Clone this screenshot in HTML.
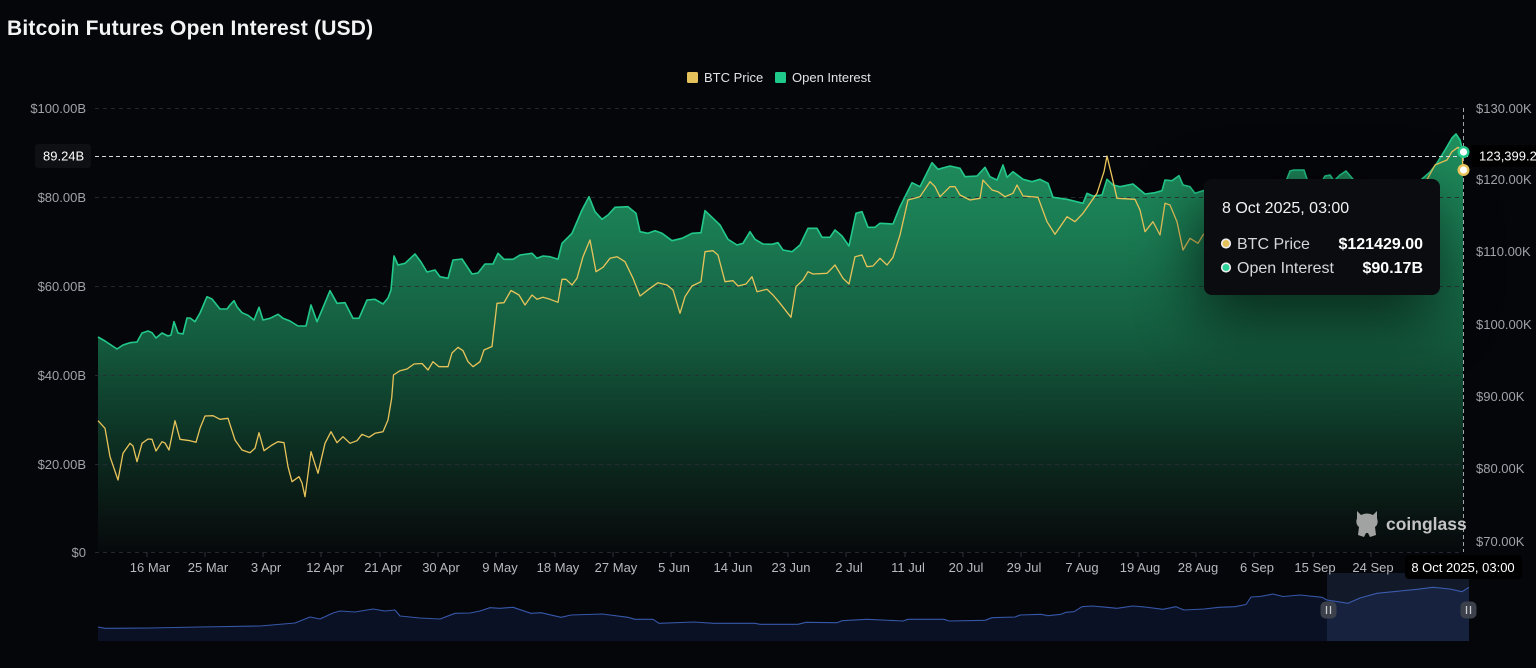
<!DOCTYPE html>
<html>
<head>
<meta charset="utf-8">
<style>
html,body{margin:0;padding:0;background:#05060a;}
body{width:1536px;height:668px;overflow:hidden;}
svg{display:block;font-family:"Liberation Sans",sans-serif;}
</style>
</head>
<body>
<svg width="1536" height="668" viewBox="0 0 1536 668" xmlns="http://www.w3.org/2000/svg">
<defs>
<linearGradient id="ga" x1="0" y1="130" x2="0" y2="552" gradientUnits="userSpaceOnUse">
<stop offset="0" stop-color="#20915f"/>
<stop offset="0.25" stop-color="#1a7a52"/>
<stop offset="0.5" stop-color="#145b3e"/>
<stop offset="0.72" stop-color="#0d3325"/>
<stop offset="0.88" stop-color="#0a1a15"/>
<stop offset="1" stop-color="#07090c"/>
</linearGradient>
<filter id="blur" x="-100%" y="-100%" width="300%" height="300%">
<feGaussianBlur stdDeviation="32"/>
</filter>
<clipPath id="plot"><rect x="98" y="100" width="1366" height="452"/></clipPath>
</defs>

<rect width="1536" height="668" fill="#05060a"/>

<!-- title -->
<text x="7" y="35" font-size="21" font-weight="bold" fill="#f4f4f5" letter-spacing="0.2">Bitcoin Futures Open Interest (USD)</text>

<!-- legend -->
<rect x="687" y="72" width="11" height="11" rx="1.5" fill="#e5c15b"/>
<text x="704" y="82" font-size="13" fill="#e2e3e6">BTC Price</text>
<rect x="775" y="72" width="11" height="11" rx="1.5" fill="#1fc98a"/>
<text x="792" y="82" font-size="13" fill="#e2e3e6">Open Interest</text>

<!-- area -->
<g clip-path="url(#plot)">
<polygon fill="url(#ga)" points="98,552 98,337 105,341 111,345 117,349 123,345 130,342.7 137,342 142,333 148,331 152,332.7 156,338 162,333 168,336 171,335 174,321.7 178,333 183,334 187,318 190,318 195,321.7 200,313 207,296.7 212,299 220,309 227,309 230,305 234,300.7 237,306.7 242,312.7 248,315.3 254,320 259,307.3 263,320 270,318.3 278,314.3 283,318.3 290,321 298,326 306,326 311,305 314,313.3 317,321.7 322,310 330,290.7 337,303.3 345,302.7 353,318.3 359,318.3 367,300 375,299.3 383,304 388,298 391,290 394,256 398,265 405,263.3 415,254 421,262 427,272 435,270 440,276.7 448,278.3 453,260 462,259 472,274 478,273 485,264 493,264 498,253.3 504,259.3 513,259.3 520,255 532,253.3 537,258.3 543,256 550,256.7 558,259.3 562,243.3 572,233.3 582,210 589,196.7 595,211.7 602,219.3 608,215 615,207.3 628,206.7 636,213.3 640,231.7 648,233.3 655,230.7 662,233.3 672,240.7 682,238.3 692,233.3 701,232.7 705,210.7 712,217.3 720,225 728,239.3 737,245 743,243.3 750,231.7 755,239.3 763,244 772,244.3 778,242.7 783,250 792,251.7 800,245 808,228.3 817,228.3 822,237.3 830,237.3 835,230 842,236 849,246 856,213.3 862,211.7 868,227.3 875,227.3 880,223.3 893,224 900,206.7 912,182.7 920,186.7 932,162.7 938,169.3 950,166 960,168.3 965,176.7 977,176 985,167.3 990,176.7 997,180 1003,165 1007,177.3 1013,171.7 1023,179.3 1032,181.7 1040,179.3 1048,183.3 1053,197.3 1067,199.3 1083,203.3 1087,193.3 1093,196 1102,195 1107,179.3 1113,185 1120,186.7 1133,184 1145,194 1155,192.7 1162,190.7 1165,180 1172,180.7 1179,175.7 1183,185 1190,186.7 1195,193.3 1203,190.7 1215,188 1230,186 1250,190 1270,186 1285,184 1290,171 1294,170 1304,170 1308,182 1320,185 1325,176 1330,175 1334,181 1340,175 1346,171 1352,178 1360,188 1380,190 1400,188 1415,185 1422,179 1430,172 1437,163 1445,150 1452,138 1456,134 1460,140 1463,152 1463,552"/>
</g>

<!-- gridlines -->
<g stroke="#2a2e35" stroke-width="1" stroke-dasharray="4 4" opacity="0.85">
<line x1="95" y1="108.5" x2="1463" y2="108.5"/>
<line x1="95" y1="197.5" x2="1463" y2="197.5"/>
<line x1="95" y1="286.5" x2="1463" y2="286.5"/>
<line x1="95" y1="375.5" x2="1463" y2="375.5"/>
<line x1="95" y1="464.5" x2="1463" y2="464.5"/>
<line x1="95" y1="552.5" x2="1463" y2="552.5"/>
</g>

<!-- green line -->
<polyline fill="none" stroke="#22c98b" stroke-width="1.6" stroke-linejoin="round" points="98,337 105,341 111,345 117,349 123,345 130,342.7 137,342 142,333 148,331 152,332.7 156,338 162,333 168,336 171,335 174,321.7 178,333 183,334 187,318 190,318 195,321.7 200,313 207,296.7 212,299 220,309 227,309 230,305 234,300.7 237,306.7 242,312.7 248,315.3 254,320 259,307.3 263,320 270,318.3 278,314.3 283,318.3 290,321 298,326 306,326 311,305 314,313.3 317,321.7 322,310 330,290.7 337,303.3 345,302.7 353,318.3 359,318.3 367,300 375,299.3 383,304 388,298 391,290 394,256 398,265 405,263.3 415,254 421,262 427,272 435,270 440,276.7 448,278.3 453,260 462,259 472,274 478,273 485,264 493,264 498,253.3 504,259.3 513,259.3 520,255 532,253.3 537,258.3 543,256 550,256.7 558,259.3 562,243.3 572,233.3 582,210 589,196.7 595,211.7 602,219.3 608,215 615,207.3 628,206.7 636,213.3 640,231.7 648,233.3 655,230.7 662,233.3 672,240.7 682,238.3 692,233.3 701,232.7 705,210.7 712,217.3 720,225 728,239.3 737,245 743,243.3 750,231.7 755,239.3 763,244 772,244.3 778,242.7 783,250 792,251.7 800,245 808,228.3 817,228.3 822,237.3 830,237.3 835,230 842,236 849,246 856,213.3 862,211.7 868,227.3 875,227.3 880,223.3 893,224 900,206.7 912,182.7 920,186.7 932,162.7 938,169.3 950,166 960,168.3 965,176.7 977,176 985,167.3 990,176.7 997,180 1003,165 1007,177.3 1013,171.7 1023,179.3 1032,181.7 1040,179.3 1048,183.3 1053,197.3 1067,199.3 1083,203.3 1087,193.3 1093,196 1102,195 1107,179.3 1113,185 1120,186.7 1133,184 1145,194 1155,192.7 1162,190.7 1165,180 1172,180.7 1179,175.7 1183,185 1190,186.7 1195,193.3 1203,190.7 1215,188 1230,186 1250,190 1270,186 1285,184 1290,171 1294,170 1304,170 1308,182 1320,185 1325,176 1330,175 1334,181 1340,175 1346,171 1352,178 1360,188 1380,190 1400,188 1415,185 1422,179 1430,172 1437,163 1445,150 1452,138 1456,134 1460,140 1463,152"/>

<!-- yellow line -->
<polyline fill="none" stroke="#e8c35a" stroke-width="1.3" stroke-linejoin="round" points="98,420.7 105,428.3 110,456.7 118,480 123,453.3 130,443.3 133,446 137,461.7 142,443.3 148,439 152,439.3 156,451 162,441.7 165,443 169,450 175,420.7 180,439.3 190,440.7 196,442.3 200,428.3 205,416 213,415.7 220,419.3 228,418.3 235,440 242,450 250,452.7 255,448.3 259,432.7 264,450.7 272,445 278,441.7 284,442.7 288,466.7 292,481.7 299,476.7 302,483 305,496.7 311,451.7 318,473.3 325,443.3 331,431.7 337,442.7 343,436.7 350,443.3 357,440.7 362,434.3 369,437.3 375,433.3 383,431.7 388,420 391.7,398 393.5,375 400,370.7 407,369 414,364 422,363.5 428,370 433,361.7 439,366.7 448,366.7 452,353 458,347.3 463,350.7 468,361.7 473,366.7 480,361.7 484,350 492,346.5 497,303.3 504,302.7 511,290.5 519,295 525,305 532,295 537,299.3 543,297.3 550,299.3 558,302.3 562,279.3 566,279.3 572,285 577,278.3 583,256.7 590,240 596,271.7 603,267.3 610,258.3 617,256.7 625,261.7 633,278.3 640,296 650,288.3 658,282.7 667,285 673,290 680,313.3 685,296.7 692,286 701,281.7 705,251.7 713,250.7 718,255 725,281.7 733,280.7 738,286 746,284 752,276.7 757,291.7 767,289.3 773,295 780,303.3 791,317.3 796,286.7 803,280 808,271.7 813,274 827,273.3 835,265 843,278.3 849,284 855,256.7 862,255 867,266.7 873,266 880,258.3 887,265 893,257.3 900,235 908,200 920,196.7 930,181.7 935,186.7 940,196.7 950,186.7 955,186.7 960,195 970,200 980,198.3 983,180 992,190 998,191.7 1005,196.7 1013,193.3 1017,185 1023,196 1038,197.3 1047,221.7 1055,234.3 1067,216.7 1075,221.7 1083,213.3 1097,193.3 1104,171.7 1107,156 1112,176.7 1117,198.3 1135,199.3 1140,210 1145,231.7 1153,221.7 1160,235 1165,203.3 1170,205 1177,221.7 1183,250 1190,238.3 1198,243.3 1203,235 1215,225 1240,215 1270,210 1300,205 1330,210 1360,205 1390,200 1415,195 1428,178 1435,165 1447,160 1452,151.7 1458,147.3 1462,150 1463,170"/>

<!-- tooltip shadow (darkens chart) -->
<rect x="1198" y="195" width="238" height="125" rx="10" fill="#000000" opacity="0.6" filter="url(#blur)"/>

<!-- crosshair -->
<line x1="1463.5" y1="108" x2="1463.5" y2="552" stroke="#a0a3a8" stroke-width="1" stroke-dasharray="4 3"/>
<line x1="95" y1="156.5" x2="1468" y2="156.5" stroke="#d8dadd" stroke-width="1" stroke-dasharray="4 3"/>

<!-- end dots -->
<circle cx="1463.5" cy="152" r="4.8" fill="#ffffff" stroke="#22c98b" stroke-width="2.4"/>
<circle cx="1463.5" cy="170" r="4.8" fill="#ffffff" stroke="#e8c35a" stroke-width="2.4"/>

<!-- left axis labels -->
<g font-size="13" fill="#9fa2a9" text-anchor="end">
<text x="86" y="113">$100.00B</text>
<text x="86" y="202">$80.00B</text>
<text x="86" y="291">$60.00B</text>
<text x="86" y="380">$40.00B</text>
<text x="86" y="469">$20.00B</text>
<text x="86" y="557">$0</text>
</g>
<rect x="35" y="144" width="56" height="24" rx="3" fill="#0f1014"/>
<text x="43" y="160.5" font-size="13" fill="#ffffff">89.24B</text>

<!-- right axis labels -->
<g font-size="13" fill="#9fa2a9">
<text x="1476" y="113">$130.00K</text>
<text x="1476" y="184">$120.00K</text>
<text x="1476" y="256">$110.00K</text>
<text x="1476" y="329">$100.00K</text>
<text x="1476" y="401">$90.00K</text>
<text x="1476" y="473">$80.00K</text>
<text x="1476" y="546">$70.00K</text>
</g>
<rect x="1471" y="145" width="70" height="22" fill="#000000"/>
<text x="1479" y="160.5" font-size="13" fill="#ffffff">123,399.21</text>

<!-- x ticks -->
<g stroke="#2e3138" stroke-width="1">
<line x1="147" y1="552" x2="147" y2="557"/><line x1="205" y1="552" x2="205" y2="557"/><line x1="263" y1="552" x2="263" y2="557"/><line x1="321" y1="552" x2="321" y2="557"/><line x1="380" y1="552" x2="380" y2="557"/><line x1="438" y1="552" x2="438" y2="557"/><line x1="496" y1="552" x2="496" y2="557"/><line x1="555" y1="552" x2="555" y2="557"/><line x1="613" y1="552" x2="613" y2="557"/><line x1="671" y1="552" x2="671" y2="557"/><line x1="730" y1="552" x2="730" y2="557"/><line x1="788" y1="552" x2="788" y2="557"/><line x1="846" y1="552" x2="846" y2="557"/><line x1="905" y1="552" x2="905" y2="557"/><line x1="963" y1="552" x2="963" y2="557"/><line x1="1021" y1="552" x2="1021" y2="557"/><line x1="1079" y1="552" x2="1079" y2="557"/><line x1="1138" y1="552" x2="1138" y2="557"/><line x1="1196" y1="552" x2="1196" y2="557"/><line x1="1254" y1="552" x2="1254" y2="557"/><line x1="1313" y1="552" x2="1313" y2="557"/><line x1="1371" y1="552" x2="1371" y2="557"/>
</g>

<!-- x labels -->
<g font-size="13" fill="#b6b9bf" text-anchor="middle">
<text x="150" y="572">16 Mar</text>
<text x="208" y="572">25 Mar</text>
<text x="266" y="572">3 Apr</text>
<text x="325" y="572">12 Apr</text>
<text x="383" y="572">21 Apr</text>
<text x="441" y="572">30 Apr</text>
<text x="500" y="572">9 May</text>
<text x="558" y="572">18 May</text>
<text x="616" y="572">27 May</text>
<text x="674" y="572">5 Jun</text>
<text x="733" y="572">14 Jun</text>
<text x="791" y="572">23 Jun</text>
<text x="849" y="572">2 Jul</text>
<text x="908" y="572">11 Jul</text>
<text x="966" y="572">20 Jul</text>
<text x="1024" y="572">29 Jul</text>
<text x="1082" y="572">7 Aug</text>
<text x="1140" y="572">19 Aug</text>
<text x="1198" y="572">28 Aug</text>
<text x="1257" y="572">6 Sep</text>
<text x="1315" y="572">15 Sep</text>
<text x="1373" y="572">24 Sep</text>
</g>

<!-- coinglass watermark -->
<g fill="#b3b3b3" opacity="0.9">
<path d="M1357,511 L1361,515 Q1367,512 1373,515 L1377,511 L1377,518 Q1379,524 1375,527 L1376,535 L1370,537 L1368,533 L1366,533 L1364,537 L1358,535 L1359,527 Q1355,524 1357,518 Z"/>
</g>
<text x="1386" y="530" font-size="17.5" font-weight="bold" fill="#c4c4c4">coinglass</text>

<!-- navigator -->
<polygon fill="#0b1124" points="98,641 98,627 105,628.3 150,628 200,627 260,626 295,623 310,617 320,619 333,613 340,611 355,612 373,609 385,611 395,610 400,616 410,617 420,618 440,619 455,613.3 470,613 480,611 490,607.7 500,608.3 513,607.3 531,613.3 541,612.7 561,617.3 571,615 602,614 628,617.3 635,619.3 653,619.3 659,623.3 694,622 714,623.3 755,623.3 760,624.3 798,624.3 806,622.3 837,622.7 842,620.7 867,619.3 903,621 908,619.3 944,619.3 949,621 985,620.3 992,617.7 1015,617 1020,615 1041,614.3 1048,615.7 1061,614.3 1066,612.3 1074,611.7 1082,606.7 1092,606 1107,607.3 1117,608.3 1133,606 1145,607 1163,609.3 1176,606.7 1184,610 1204,609 1219,607.3 1235,606.7 1246,604.5 1251,597 1260,596.5 1273,594 1283,596.5 1300,595 1322,597.3 1327,600 1348,603.3 1360,598 1377,593.3 1400,591 1417,589.3 1433,587.3 1450,589 1462,591.7 1469,587.3 1469,641"/>
<polyline fill="none" stroke="#3657a8" stroke-width="1.1" stroke-linejoin="round" points="98,627 105,628.3 150,628 200,627 260,626 295,623 310,617 320,619 333,613 340,611 355,612 373,609 385,611 395,610 400,616 410,617 420,618 440,619 455,613.3 470,613 480,611 490,607.7 500,608.3 513,607.3 531,613.3 541,612.7 561,617.3 571,615 602,614 628,617.3 635,619.3 653,619.3 659,623.3 694,622 714,623.3 755,623.3 760,624.3 798,624.3 806,622.3 837,622.7 842,620.7 867,619.3 903,621 908,619.3 944,619.3 949,621 985,620.3 992,617.7 1015,617 1020,615 1041,614.3 1048,615.7 1061,614.3 1066,612.3 1074,611.7 1082,606.7 1092,606 1107,607.3 1117,608.3 1133,606 1145,607 1163,609.3 1176,606.7 1184,610 1204,609 1219,607.3 1235,606.7 1246,604.5 1251,597 1260,596.5 1273,594 1283,596.5 1300,595 1322,597.3 1327,600 1348,603.3 1360,598 1377,593.3 1400,591 1417,589.3 1433,587.3 1450,589 1462,591.7 1469,587.3"/>
<rect x="1327" y="573" width="142" height="68" fill="#5a7ad0" opacity="0.16"/>
<rect x="1320.5" y="601.5" width="16" height="17" rx="5" fill="#3b404b"/>
<line x1="1326.5" y1="606" x2="1326.5" y2="614" stroke="#c9cbd0" stroke-width="1.3"/>
<line x1="1330.5" y1="606" x2="1330.5" y2="614" stroke="#c9cbd0" stroke-width="1.3"/>
<rect x="1460.5" y="601.5" width="16" height="17" rx="5" fill="#3b404b"/>
<line x1="1466.5" y1="606" x2="1466.5" y2="614" stroke="#c9cbd0" stroke-width="1.3"/>
<line x1="1470.5" y1="606" x2="1470.5" y2="614" stroke="#c9cbd0" stroke-width="1.3"/>

<!-- date label box -->
<rect x="1405" y="555" width="117" height="24" rx="4" fill="#000000"/>
<text x="1463" y="572" font-size="13" fill="#ffffff" text-anchor="middle">8 Oct 2025, 03:00</text>

<!-- tooltip -->
<rect x="1204" y="179" width="236" height="116" rx="8" fill="#0b0c0f"/>
<text x="1222" y="213" font-size="16" fill="#f2f2f3">8 Oct 2025, 03:00</text>
<circle cx="1226" cy="243.5" r="4.3" fill="#e5c15b" stroke="#eeeeee" stroke-width="1.6"/>
<text x="1237" y="249" font-size="16" fill="#d6d7da">BTC Price</text>
<text x="1423" y="249" font-size="16" font-weight="bold" fill="#ffffff" text-anchor="end">$121429.00</text>
<circle cx="1226" cy="267.5" r="4.3" fill="#2ed39a" stroke="#eeeeee" stroke-width="1.6"/>
<text x="1237" y="273" font-size="16" fill="#d6d7da">Open Interest</text>
<text x="1423" y="273" font-size="16" font-weight="bold" fill="#ffffff" text-anchor="end">$90.17B</text>
</svg>
</body>
</html>
